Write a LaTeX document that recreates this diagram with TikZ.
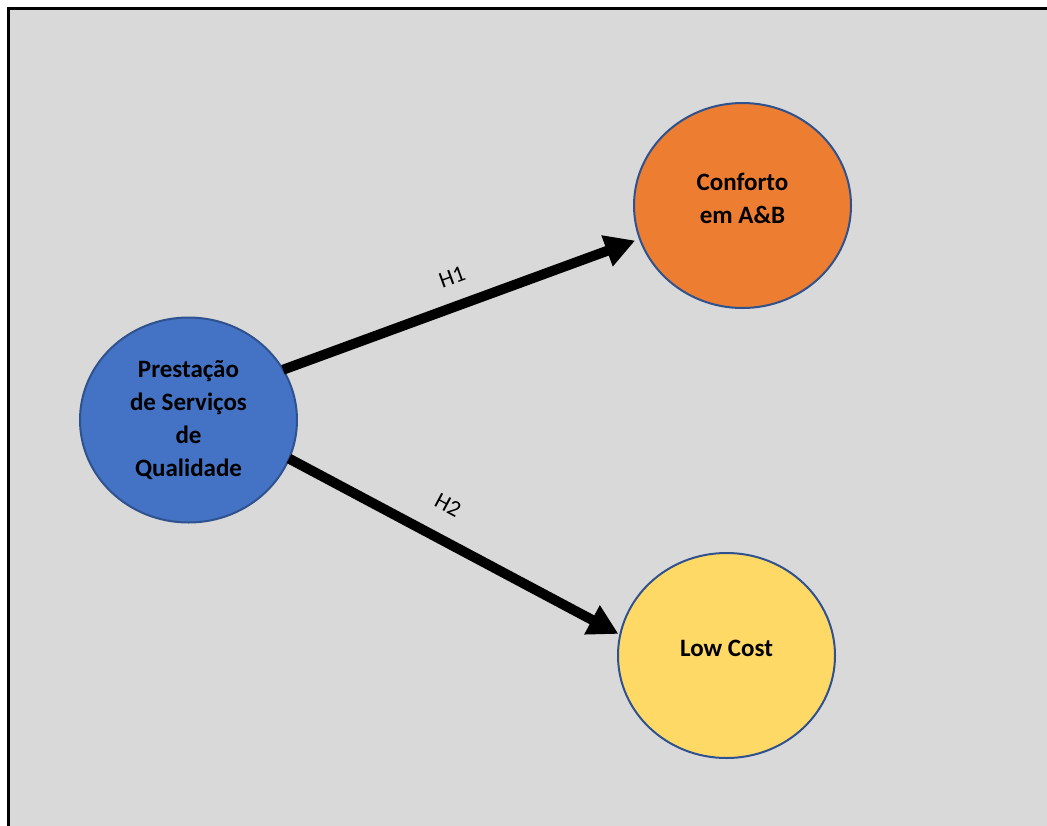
\documentclass[tikz,border=0pt]{standalone}
\usepackage{fontspec}
\setmainfont{Carlito}
\usetikzlibrary{arrows.meta,shapes.geometric}
\definecolor{bggray}{HTML}{D9D9D9}
\definecolor{cblue}{HTML}{4472C4}
\definecolor{corange}{HTML}{ED7D31}
\definecolor{cyellow}{HTML}{FFD966}
\definecolor{cedge}{HTML}{2F528F}
\tikzset{
  bubble/.style={ellipse, draw=cedge, line width=2pt, minimum width=217pt, minimum height=205pt,
    inner sep=0pt, outer sep=0pt, align=center, font=\fontsize{25}{33}\selectfont\bfseries},
  hyp/.style={line width=10pt, -{Triangle[length=30pt,width=31pt]}},
  lbl/.style={font=\fontsize{23}{26}\selectfont, inner sep=0pt}
}
\begin{document}
\begin{tikzpicture}[x=1pt,y=-1pt]
\useasboundingbox (0,0) rectangle (1047,825);
\clip (0,0) rectangle (1047,825);
\fill[white] (0,0) rectangle (1047,825);
\draw[line width=3pt, fill=bggray] (8.5,8.5) rectangle (1070,850);
\node[bubble, fill=cblue] (a) at (188.5,420) {Prestação\\de Serviços\\de\\Qualidade};
\node[bubble, fill=corange, text depth=14pt] (b) at (742.5,205.5) {Conforto\\em A\&B};
\node[bubble, fill=cyellow, text depth=14pt] (c) at (726.5,655.5) {Low Cost};
\draw[hyp, shorten >=5pt] (a.28) -- (b.198);
\draw[hyp, shorten >=2pt] (a.-21.5) -- (c.169.3);
\node[lbl, rotate=20.2] (h1) at (452,277) {H1};
\node[lbl, rotate=-28.1] (h2) at (448,505) {H2};
\end{tikzpicture}
\end{document}
